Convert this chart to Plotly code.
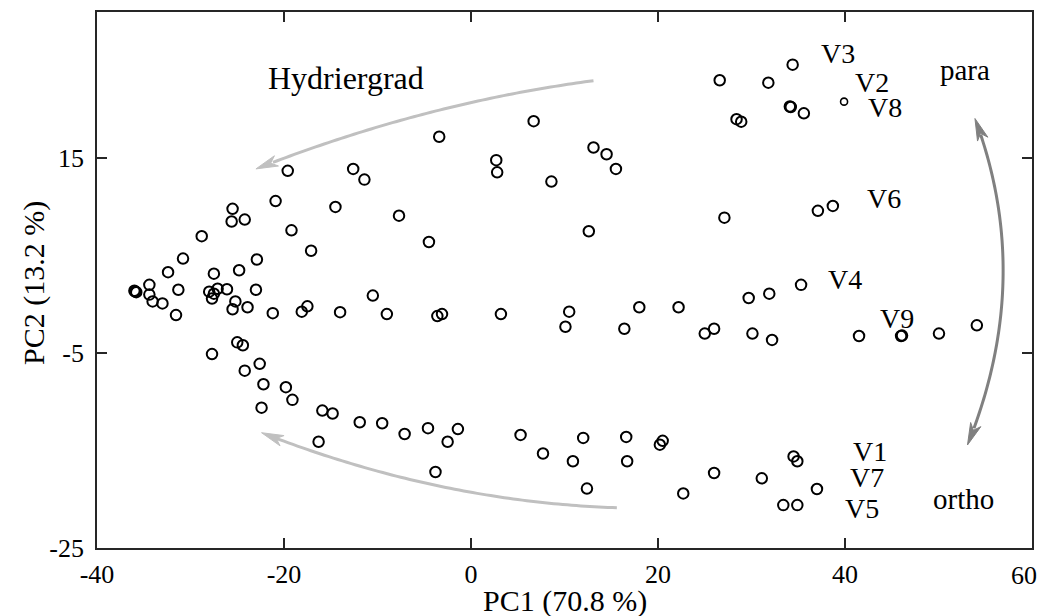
import numpy as np
import plotly.graph_objects as go

# ---------------- data ----------------
pc1 = [
    # upper branch
    -3.4, -19.6, -12.6, -11.4, -20.9, -14.5, -7.7, -25.5, -25.6, -24.2, -19.2, -4.5,
    -28.8, -17.1, -30.8, -32.4, -27.5, -24.8, -22.9, 6.7, 2.7, 2.8, 8.6, 13.1, 14.5,
    15.5, 12.6, 27.1, 26.6, 28.4, 28.9, 31.8, 34.4, 34.1, 34.2, 35.6, 37.1, 38.7,
    # middle branch
    -36.0, -35.8, -35.9, -34.4, -34.4, -34.05, -33.0, -31.3, -31.55, -28.0, -27.5,
    -27.1, -27.7, -26.1, -25.2, -25.5, -23.9, -23.0, -21.2, -18.1, -17.5, -14.0,
    -10.5, -9.0, -3.6, -3.1, 3.2, 10.5, 10.1, 16.4, 18.0, 22.2, 25.0, 26.0, 29.7,
    30.1, 31.9, 32.2, 35.3, 41.5, 46.0, 46.1, 50.05, 54.1,
    # lower branch
    -27.7, -25.0, -24.4, -24.2, -22.6, -22.2, -19.8, -19.1, -22.4, -15.9, -14.8,
    -11.9, -9.5, -7.1, -4.6, -16.3, -3.8, -2.5, -1.4, 5.3, 7.7, 10.9, 12.0, 12.4,
    16.6, 16.7, 20.5, 20.2, 22.7, 26.0, 31.1, 34.5, 34.9, 37.0, 33.4, 34.9,
]
pc2 = [
    17.2, 13.7, 13.9, 12.8, 10.6, 10.0, 9.1, 9.8, 8.5, 8.7, 7.6, 6.4,
    7.0, 5.5, 4.7, 3.3, 3.15, 3.5, 4.6, 18.8, 14.8, 13.55, 12.6, 16.1, 15.4,
    13.9, 7.5, 8.9, 23.0, 19.0, 18.75, 22.75, 24.6, 20.3, 20.25, 19.6, 9.6, 10.1,
    1.4, 1.25, 1.3, 2.0, 1.0, 0.3, 0.1, 1.5, -1.1, 1.3, 1.1,
    1.6, 0.6, 1.55, 0.3, -0.5, -0.3, 1.5, -0.9, -0.75, -0.2, -0.8,
    0.9, -1.0, -1.2, -1.0, -1.0, -0.75, -2.3, -2.5, -0.3, -0.3, -3.0, -2.5, 0.65,
    -3.0, 1.1, -3.65, 2.0, -3.25, -3.25, -3.2, -3.0, -2.15,
    -5.1, -3.9, -4.2, -6.8, -6.1, -8.2, -8.5, -9.8, -10.6, -10.9, -11.2,
    -12.1, -12.2, -13.3, -12.7, -14.1, -17.2, -14.1, -12.8, -13.4, -15.3, -16.1, -13.7, -18.9,
    -13.6, -16.1, -14.0, -14.4, -19.4, -17.3, -17.85, -15.6, -16.1, -18.95, -20.6, -20.6,
]
# single small marker next to V8
small_pc1 = [39.9]
small_pc2 = [20.8]

sample_labels = ["V3", "V2", "V8", "V6", "V4", "V9", "V1", "V7", "V5"]
label_x = [39.2, 42.9, 44.3, 44.2, 39.95, 45.6, 42.7, 42.3, 41.8]
label_y = [25.7, 22.8, 20.2, 10.9, 2.6, -1.4, -15.05, -17.8, -20.9]

group_labels = ["para", "ortho"]
group_x = [52.8, 52.7]
group_y = [24.0, -20.0]

arrow_label = "Hydriergrad"
arrow_label_xy = (-13.4, 23.2)

x_ticks = [-40, -20, 0, 20, 40, 60]
y_ticks = [-25, -5, 15]
x_title = "PC1 (70.8 %)"
y_title = "PC2 (13.2 %)"

# arrows: (start, control, tip) in data coordinates
arrow_upper = [(13.1, 22.95), (-5.0, 20.66), (-23.0, 13.9)]
arrow_lower = [(15.6, -20.87), (-3.45, -20.26), (-22.4, -13.17)]
arrow_right = [(53.9, 19.07), (60.3, 2.66), (53.1, -14.43)]

# ---------------- layout geometry ----------------
OFF = 8  # page body margin
W, H = 1046 - OFF, 616 - OFF
ML, MR, MT, MB = 97 - OFF, 14, 12 - OFF, 68
XR = (-40, 60)
YR = (-25, 30)
PW = W - ML - MR
PH = H - MT - MB


def to_px(x, y):
    return (ML + (x - XR[0]) / (XR[1] - XR[0]) * PW,
            MT + (YR[1] - y) / (YR[1] - YR[0]) * PH)


def to_data(px, py):
    return (XR[0] + (px - ML) / PW * (XR[1] - XR[0]),
            YR[1] - (py - MT) / PH * (YR[1] - YR[0]))


def quad_points(p0, c, p2, n=80):
    t = np.linspace(0, 1, n)[:, None]
    p0, c, p2 = map(np.array, (p0, c, p2))
    return (1 - t) ** 2 * p0 + 2 * (1 - t) * t * c + t ** 2 * p2


def head(tip_px, from_px, length=22, half=5.5):
    tip = np.array(tip_px)
    d = tip - np.array(from_px)
    d = d / np.linalg.norm(d)
    nrm = np.array([-d[1], d[0]])
    pts = [tip, tip - length * d + half * nrm, tip - 0.72 * length * d,
           tip - length * d - half * nrm]
    return pts, tip - 0.65 * length * d


def arrow_shapes(ctrl, color, both=False, width=3):
    p0 = to_px(*ctrl[0])
    c = to_px(*ctrl[1])
    p2 = to_px(*ctrl[2])
    pts = quad_points(p0, c, p2)
    shapes = []
    h2, back2 = head(p2, c)
    keep = np.linalg.norm(pts - np.array(p2), axis=1) > np.linalg.norm(np.array(p2) - back2)
    heads = [h2]
    if both:
        h0, back0 = head(p0, c)
        keep &= np.linalg.norm(pts - np.array(p0), axis=1) > np.linalg.norm(np.array(p0) - back0)
        heads.append(h0)
    pts = pts[keep]
    path = "M " + " L ".join("{:.4f},{:.4f}".format(*to_data(*p)) for p in pts)
    shapes.append(dict(type="path", path=path, xref="x", yref="y",
                       line=dict(color=color, width=width)))
    for hp in heads:
        hpath = "M " + " L ".join("{:.4f},{:.4f}".format(*to_data(*p)) for p in hp) + " Z"
        shapes.append(dict(type="path", path=hpath, xref="x", yref="y",
                           fillcolor=color, line=dict(color=color, width=1)))
    return shapes


FONT = "Liberation Serif"
AX = "#262626"

fig = go.Figure()
fig.add_trace(go.Scatter(
    x=pc1, y=pc2, mode="markers",
    marker=dict(symbol="circle-open", size=10.5, color="black", line=dict(width=2)),
    showlegend=False, hoverinfo="x+y"))
fig.add_trace(go.Scatter(
    x=small_pc1, y=small_pc2, mode="markers",
    marker=dict(symbol="circle-open", size=7, color="black", line=dict(width=1.6)),
    showlegend=False, hoverinfo="x+y"))

shapes = []
shapes += arrow_shapes(arrow_upper, "#c0c0c0")
shapes += arrow_shapes(arrow_lower, "#c0c0c0")
shapes += arrow_shapes(arrow_right, "#808080", both=True)

annotations = []
for t, x, y in zip(sample_labels, label_x, label_y):
    annotations.append(dict(text=t, x=x, y=y, xref="x", yref="y", showarrow=False,
                            font=dict(family=FONT, size=28, color="black")))
for t, x, y in zip(group_labels, group_x, group_y):
    annotations.append(dict(text=t, x=x, y=y, xref="x", yref="y", showarrow=False,
                            font=dict(family=FONT, size=29, color="black")))
annotations.append(dict(text=arrow_label, x=arrow_label_xy[0], y=arrow_label_xy[1],
                        xref="x", yref="y", showarrow=False,
                        font=dict(family=FONT, size=32, color="black")))
# axis titles placed at measured screen positions
annotations.append(dict(text=x_title, x=0.5, y=(MT + PH - (601 - OFF)) / PH,
                        xref="paper", yref="paper", showarrow=False,
                        xanchor="center", yanchor="middle",
                        font=dict(family=FONT, size=30, color="black")))
annotations.append(dict(text=y_title, x=((34 - OFF) - ML) / PW, y=(MT + PH - (283 - OFF)) / PH,
                        xref="paper", yref="paper", showarrow=False, textangle=-90,
                        xanchor="center", yanchor="middle",
                        font=dict(family=FONT, size=30, color="black")))

# the last x tick label sits just inside the figure edge, as in the reference
x_ticktext = [str(v) for v in x_ticks]
last_label = x_ticktext[-1]
x_ticktext[-1] = ""
annotations.append(dict(text=last_label, x=((1039 - OFF) - ML) / PW, y=0,
                        xref="paper", yref="paper", showarrow=False,
                        xanchor="right", yanchor="top", yshift=-11,
                        font=dict(family=FONT, size=26, color="black")))

fig.update_layout(
    width=W, height=H,
    margin=dict(l=ML, r=MR, t=MT, b=MB, autoexpand=False),
    paper_bgcolor="white", plot_bgcolor="white",
    shapes=shapes, annotations=annotations,
    font=dict(family=FONT, size=26, color="black"),
)
axis_common = dict(showgrid=False, zeroline=False, showline=True, linecolor=AX,
                   linewidth=1.6, mirror="ticks", ticks="inside", ticklen=10,
                   tickwidth=1.5, tickcolor=AX,
                   tickfont=dict(family=FONT, size=26, color="black"))
fig.update_xaxes(range=list(XR), tickvals=x_ticks, ticktext=x_ticktext,
                 ticklabelstandoff=2, **axis_common)
fig.update_yaxes(range=list(YR), tickvals=y_ticks, ticktext=[str(v) for v in y_ticks],
                 ticklabelstandoff=6, **axis_common)

fig.write_html("out.html")
